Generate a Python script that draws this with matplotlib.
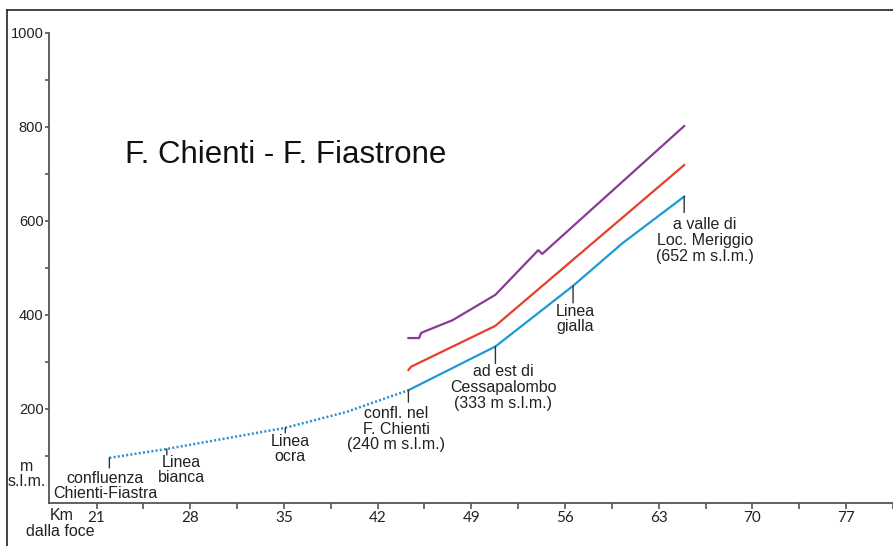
import matplotlib.pyplot as plt
from matplotlib.lines import Line2D

# profile data (km from the river mouth, m a.s.l.)
blue_dot_km = [21.96, 26.25, 35.1, 39.7, 44.3]
blue_dot_elev = [96, 115, 160, 194, 240]

blue_km = [44.3, 50.8, 56.6, 60.3, 64.9]
blue_elev = [240, 333, 462, 553, 652]

red_km = [44.3, 44.5, 50.8, 64.9]
red_elev = [283, 290, 377, 719]

purple_km = [44.3, 45.1, 45.25, 47.6, 50.8, 53.8, 54.0, 54.3, 64.9]
purple_elev = [351, 351, 362, 389, 443, 532, 538, 530, 802]

x_ticks = [21, 28, 35, 42, 49, 56, 63, 70, 77]
y_ticks = [200, 400, 600, 800, 1000]

notes = ['confluenza\nChienti-Fiastra', 'Linea\nbianca', 'Linea\nocra',
         'confl. nel\nF. Chienti\n(240 m s.l.m.)',
         'ad est di\nCessapalombo\n(333 m s.l.m.)', 'Linea\ngialla',
         'a valle di\nLoc. Meriggio\n(652 m s.l.m.)']
notes_km = [21.96, 26.25, 35.1, 44.3, 50.8, 56.6, 64.9]
notes_elev = [96, 115, 160, 240, 333, 462, 652]

# tick length and text offset for every note, in pixels
tick_len = [10, 6, 5, 12, 17, 17, 16]
text_off = [(-4, -28), (15, -21), (5, -21), (-12, -39), (8, -41), (2, -33), (21, -44)]

font = 'Liberation Sans'
ink = '#222222'

fig = plt.figure(figsize=(8.93, 5.46), dpi=100)
ax = fig.add_axes([49 / 893, 43 / 546, 1 - 49 / 893, 470 / 546])

ax.plot(blue_dot_km, blue_dot_elev, color='#2a8fcf', lw=1.8,
        linestyle=(0, (0.8, 0.9)))
ax.plot(blue_km, blue_elev, color='#1c9ad6', lw=1.6)
ax.plot(red_km, red_elev, color='#e4402b', lw=1.6)
ax.plot(purple_km, purple_elev, color='#8a3a96', lw=1.6)

for txt, k, e, tl, off in zip(notes, notes_km, notes_elev, tick_len, text_off):
    ax.annotate('', xy=(k, e), xytext=(0, -tl), textcoords='offset pixels',
                arrowprops=dict(arrowstyle='-', color='#333333', lw=1,
                                shrinkA=0, shrinkB=0))
    ax.annotate(txt, xy=(k, e), xytext=off, textcoords='offset pixels',
                ha='center', va='center', fontsize=11.5, family=font,
                color=ink, linespacing=1.05)

ax.set_xlim(17.45, 79.87)
ax.set_ylim(0, 1000)

ax.set_xticks(x_ticks)
ax.set_xticks([t + 3.5 for t in x_ticks], minor=True)
ax.set_xticklabels([str(t) for t in x_ticks], family='Lato', fontsize=11,
                   color=ink)
ax.set_yticks(y_ticks)
ax.set_yticks([100, 300, 500, 700, 900], minor=True)
ax.set_yticklabels([str(t) for t in y_ticks], family=font, fontsize=10.5,
                   color=ink)
ax.tick_params(axis='x', which='both', direction='out', length=4, width=1.2,
               color='#555555', pad=2)
ax.tick_params(axis='y', which='both', direction='out', length=3, width=1.2,
               color='#555555', pad=1)

for side in ['top', 'right']:
    ax.spines[side].set_visible(False)
for side in ['left', 'bottom']:
    ax.spines[side].set_color('#555555')
    ax.spines[side].set_linewidth(1.3)

ax.text(125 / 893, 1 - 155 / 546, 'F. Chienti - F. Fiastrone',
        transform=fig.transFigure, fontsize=22.5, family=font, color='#111111',
        ha='left', va='center')
fig.text(27 / 893, 1 - 474 / 546, 'm\ns.l.m.', fontsize=11.5, family=font,
         color=ink, ha='center', va='center', linespacing=1.0)
fig.text(62 / 893, 1 - 516 / 546, 'Km', fontsize=11.5, family=font,
         color=ink, ha='center', va='center')
fig.text(60 / 893, 1 - 532 / 546, 'dalla foce', fontsize=11.5, family=font,
         color=ink, ha='center', va='center')

# frame around the picture
fig.add_artist(Line2D([7 / 893, 7 / 893], [0, 1 - 10 / 546],
                      transform=fig.transFigure, color='#222222', lw=1.2))
fig.add_artist(Line2D([7 / 893, 1], [1 - 10 / 546, 1 - 10 / 546],
                      transform=fig.transFigure, color='#222222', lw=1.2))

fig.savefig('out.png', dpi=100)
